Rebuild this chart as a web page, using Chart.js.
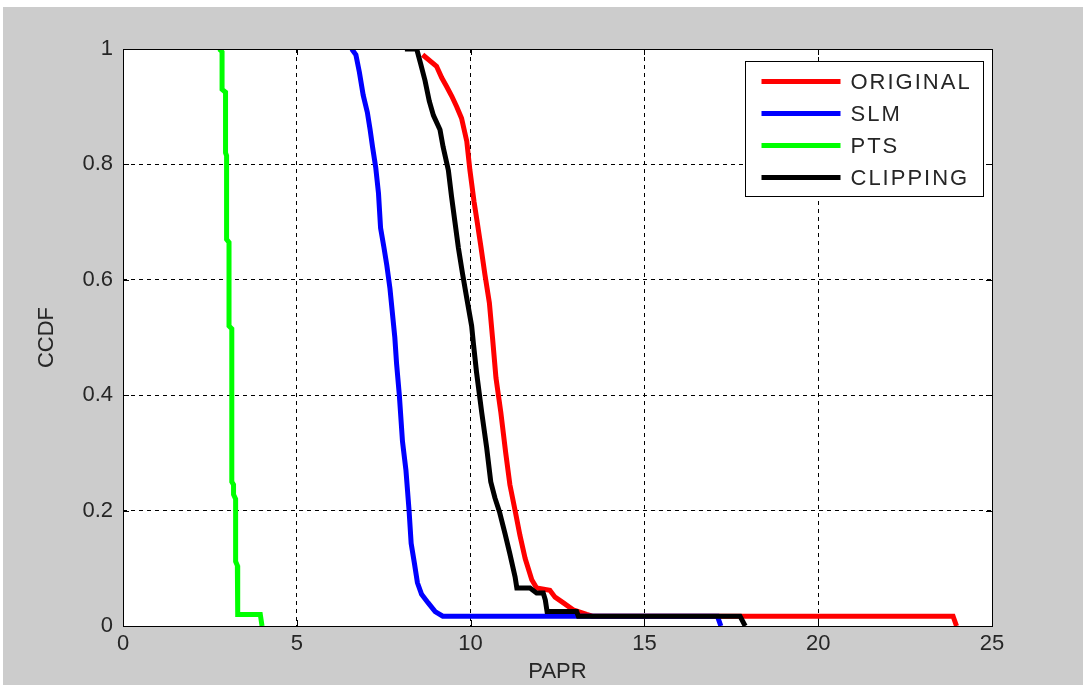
<!DOCTYPE html>
<html>
<head>
<meta charset="utf-8">
<script src="https://cdn.jsdelivr.net/npm/chart.js@4.4.1/dist/chart.umd.min.js"></script>
<style>
  html, body { margin: 0; padding: 0; background: #ffffff; }
  #wrap { position: absolute; left: 3px; top: 7px; width: 1080px; height: 678px; background: #cccccc; }
</style>
</head>
<body>
<div id="wrap"><canvas id="ccdf" width="1080" height="678"></canvas></div>
<script>
const seriesNames = ["ORIGINAL", "SLM", "PTS", "CLIPPING"];
const seriesColors = ["#ff0000", "#0000ff", "#00ff00", "#000000"];

// PAPR (x) and CCDF (y)
const origX = [8.62, 9.02, 9.17, 9.31, 9.46, 9.6, 9.74, 9.89, 9.98, 10.1, 10.19, 10.29, 10.41, 10.54, 10.63, 10.73, 10.87, 11.01, 11.13, 11.28, 11.42, 11.57, 11.76, 11.9, 12.28, 12.43, 12.67, 12.95, 13.34, 13.5, 23.88, 23.98];
const origY = [0.99, 0.97, 0.95, 0.935, 0.918, 0.9, 0.88, 0.84, 0.79, 0.735, 0.7, 0.66, 0.61, 0.56, 0.5, 0.43, 0.37, 0.3, 0.245, 0.2, 0.157, 0.117, 0.08, 0.066, 0.062, 0.05, 0.04, 0.028, 0.02, 0.017, 0.017, 0];

const slmX = [6.58, 6.7, 6.8, 6.91, 7.03, 7.11, 7.18, 7.27, 7.35, 7.41, 7.51, 7.59, 7.68, 7.82, 7.87, 7.95, 8.04, 8.14, 8.23, 8.29, 8.38, 8.47, 8.59, 8.78, 8.98, 9.2, 17.1, 17.2];
const slmY = [1.0, 0.99, 0.96, 0.92, 0.89, 0.86, 0.83, 0.795, 0.75, 0.69, 0.655, 0.625, 0.585, 0.5, 0.455, 0.4, 0.32, 0.27, 0.2, 0.143, 0.11, 0.075, 0.055, 0.04, 0.025, 0.017, 0.017, 0];

const ptsX = [2.77, 2.85, 2.85, 2.95, 2.95, 2.98, 2.98, 3.05, 3.05, 3.13, 3.13, 3.18, 3.18, 3.24, 3.24, 3.29, 3.3, 3.95, 4.0];
const ptsY = [1.0, 0.995, 0.93, 0.925, 0.82, 0.815, 0.67, 0.665, 0.52, 0.515, 0.25, 0.245, 0.228, 0.22, 0.112, 0.105, 0.02, 0.02, 0];

const clipX = [8.11, 8.45, 8.56, 8.69, 8.81, 8.93, 9.12, 9.21, 9.36, 9.45, 9.55, 9.65, 9.77, 9.89, 10.03, 10.08, 10.17, 10.32, 10.46, 10.58, 10.7, 10.83, 10.99, 11.13, 11.28, 11.33, 11.71, 11.9, 12.09, 12.15, 12.2, 13.05, 13.1, 17.75, 17.9];
const clipY = [1.0, 1.0, 0.975, 0.945, 0.91, 0.885, 0.86, 0.83, 0.79, 0.745, 0.7, 0.655, 0.61, 0.568, 0.52, 0.49, 0.44, 0.37, 0.31, 0.25, 0.222, 0.198, 0.16, 0.125, 0.085, 0.066, 0.066, 0.057, 0.057, 0.045, 0.025, 0.025, 0.017, 0.017, 0];

const xTicks = [0, 5, 10, 15, 20, 25];
const yTicks = [0, 0.2, 0.4, 0.6, 0.8, 1];

const FONT = "'Liberation Sans', Arial, sans-serif";
const TEXT = "#262626";

function toPoints(xs, ys) {
  return xs.map((x, i) => ({ x: x, y: ys[i] }));
}

const allX = [origX, slmX, ptsX, clipX];
const allY = [origY, slmY, ptsY, clipY];
// black on top, then green, blue, red
const drawOrder = [3, 2, 1, 0];

const datasets = seriesNames.map((name, i) => ({
  label: name,
  data: toPoints(allX[i], allY[i]),
  borderColor: seriesColors[i],
  backgroundColor: seriesColors[i],
  borderWidth: 5,
  pointRadius: 0,
  tension: 0,
  fill: false,
  order: drawOrder[i],
}));

// white plot area, box with inner ticks, and legend inside the axes
const matlabAxes = {
  id: "matlabAxes",
  beforeDraw(chart) {
    const { ctx, chartArea: a } = chart;
    ctx.save();
    ctx.fillStyle = "#ffffff";
    ctx.fillRect(a.left, a.top, a.right - a.left, a.bottom - a.top);
    ctx.restore();
  },
  afterDraw(chart) {
    const { ctx, chartArea: a, scales } = chart;
    ctx.save();
    ctx.strokeStyle = "#000000";
    ctx.lineWidth = 1;
    ctx.beginPath();
    const tl = 6;
    xTicks.forEach((v) => {
      const px = Math.round(scales.x.getPixelForValue(v)) + 0.5;
      ctx.moveTo(px, a.bottom); ctx.lineTo(px, a.bottom - tl);
      ctx.moveTo(px, a.top); ctx.lineTo(px, a.top + tl);
    });
    yTicks.forEach((v) => {
      const py = Math.round(scales.y.getPixelForValue(v)) + 0.5;
      ctx.moveTo(a.left, py); ctx.lineTo(a.left + tl, py);
      ctx.moveTo(a.right, py); ctx.lineTo(a.right - tl, py);
    });
    ctx.stroke();
    ctx.strokeRect(Math.round(a.left) + 0.5, Math.round(a.top) + 0.5,
      Math.round(a.right - a.left), Math.round(a.bottom - a.top));

    // legend
    ctx.font = "22px " + FONT;
    ctx.letterSpacing = "2px";
    const sets = chart.data.datasets;
    let maxW = 0;
    sets.forEach((d) => { maxW = Math.max(maxW, ctx.measureText(d.label).width); });
    const lineStart = 16, lineLen = 79, textOff = 105, rowH = 32, firstRow = 20;
    const boxW = Math.round(textOff + maxW + 12);
    const boxH = firstRow + rowH * (sets.length - 1) + 19;
    const bx = Math.round(a.right - 9 - boxW) + 0.5;
    const by = Math.round(a.top + 12) + 0.5;
    ctx.fillStyle = "#ffffff";
    ctx.fillRect(bx, by, boxW, boxH);
    ctx.strokeStyle = "#000000";
    ctx.strokeRect(bx, by, boxW, boxH);
    ctx.textBaseline = "middle";
    ctx.textAlign = "left";
    sets.forEach((d, i) => {
      const ry = by + firstRow + i * rowH;
      ctx.strokeStyle = d.borderColor;
      ctx.lineWidth = 5;
      ctx.beginPath();
      ctx.moveTo(bx + lineStart, ry);
      ctx.lineTo(bx + lineStart + lineLen, ry);
      ctx.stroke();
      ctx.fillStyle = TEXT;
      ctx.fillText(d.label, bx + textOff, ry + 1);
    });
    ctx.restore();
  },
};

new Chart(document.getElementById("ccdf"), {
  type: "line",
  data: { datasets: datasets },
  plugins: [matlabAxes],
  options: {
    responsive: false,
    animation: false,
    layout: { padding: { left: 0, top: 42, right: 91, bottom: 0 } },
    plugins: { legend: { display: false }, tooltip: { enabled: false } },
    scales: {
      x: {
        type: "linear",
        min: 0,
        max: 25,
        afterFit: (s) => { s.height = 59; },
        afterBuildTicks: (s) => { s.ticks = xTicks.map((v) => ({ value: v })); },
        grid: { color: "#000000", lineWidth: 1, drawTicks: false },
        border: { display: false, dash: [4, 4] },
        ticks: { color: TEXT, padding: 5, font: { family: FONT, size: 22 } },
        title: { display: true, text: "PAPR", color: TEXT, padding: { top: 0, bottom: 0 }, font: { family: FONT, size: 22 } },
      },
      y: {
        type: "linear",
        min: 0,
        max: 1,
        afterFit: (s) => { s.width = 120; },
        afterBuildTicks: (s) => { s.ticks = yTicks.map((v) => ({ value: v })); },
        grid: { color: "#000000", lineWidth: 1, drawTicks: false },
        border: { display: false, dash: [4, 4] },
        ticks: { color: TEXT, padding: 10, font: { family: FONT, size: 22 }, callback: (v) => String(v) },
        title: { display: true, text: "CCDF", color: TEXT, padding: { top: 31, bottom: 0 }, font: { family: FONT, size: 22 } },
      },
    },
  },
});
</script>
</body>
</html>
